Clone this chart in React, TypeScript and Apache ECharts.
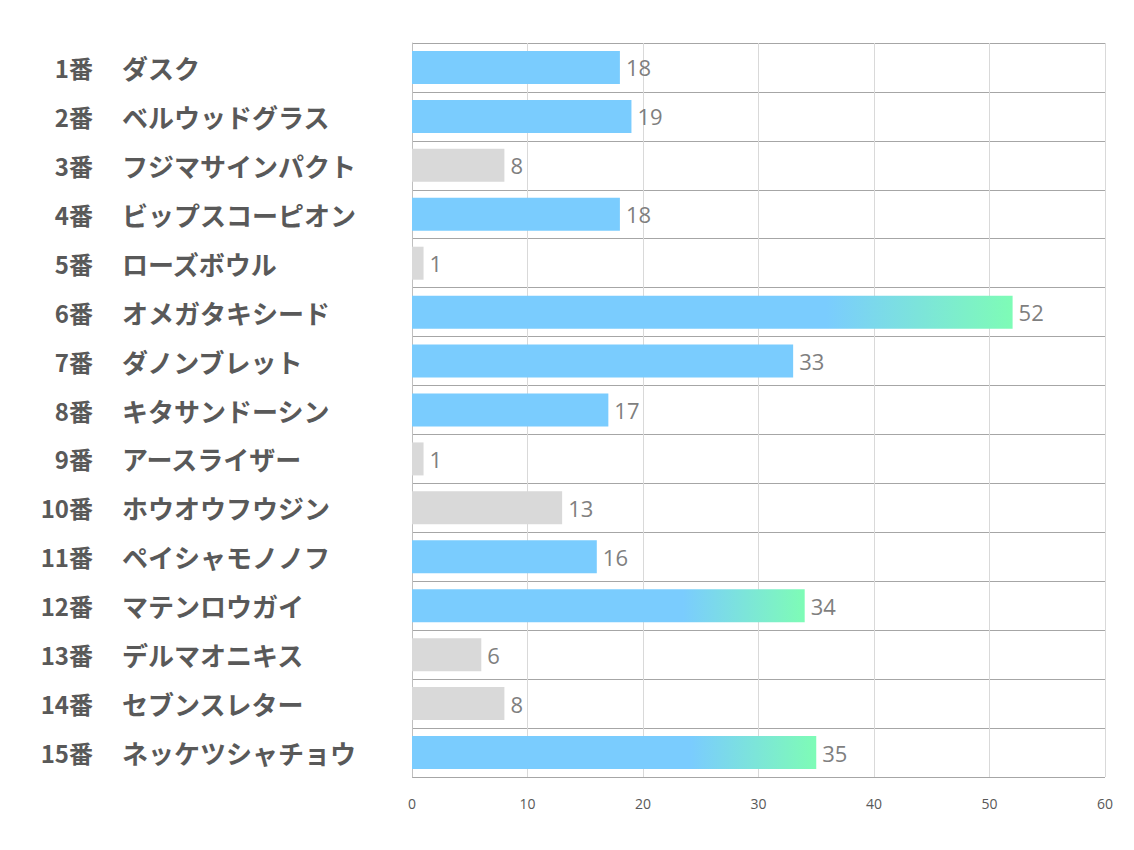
import React, { useEffect, useRef } from "react";
import * as echarts from "echarts";

const numbers = ["1番", "2番", "3番", "4番", "5番", "6番", "7番", "8番", "9番", "10番", "11番", "12番", "13番", "14番", "15番"];
const names = [
  "ダスク",
  "ベルウッドグラス",
  "フジマサインパクト",
  "ビップスコーピオン",
  "ローズボウル",
  "オメガタキシード",
  "ダノンブレット",
  "キタサンドーシン",
  "アースライザー",
  "ホウオウフウジン",
  "ペイシャモノノフ",
  "マテンロウガイ",
  "デルマオニキス",
  "セブンスレター",
  "ネッケツシャチョウ",
];
const values = [18, 19, 8, 18, 1, 52, 33, 17, 1, 13, 16, 34, 6, 8, 35];
// "blue" = highlighted, "gray" = not highlighted, "grad" = blue with green gradient end
const styles = ["blue", "blue", "gray", "blue", "gray", "grad", "blue", "blue", "gray", "gray", "blue", "grad", "gray", "gray", "grad"];
const xTicks = [0, 10, 20, 30, 40, 50, 60];

const BLUE = "#7ACCFE";
const GREEN = "#7EFCB6";
const GRAY = "#D9D9D9";
const LABEL_FONT = "Noto Sans CJK JP";

export default function App() {
  const ref = useRef<HTMLDivElement>(null);
  useEffect(() => {
    if (!ref.current) return;
    const chart = echarts.init(ref.current, undefined, { renderer: "svg" });
    const data = values.map((v, i) => {
      const s = styles[i];
      let color: any = s === "gray" ? GRAY : BLUE;
      if (s === "grad") {
        color = new echarts.graphic.LinearGradient(0, 0, 1, 0, [
          { offset: 0, color: BLUE },
          { offset: 0.69, color: BLUE },
          { offset: 1, color: GREEN },
        ]);
      }
      return { value: v, itemStyle: { color } };
    });
    chart.setOption({
      animation: false,
      grid: { left: 412, right: 29, top: 43, bottom: 73, containLabel: false },
      xAxis: {
        type: "value",
        min: xTicks[0],
        max: xTicks[xTicks.length - 1],
        interval: 10,
        axisLine: { show: false },
        axisTick: { show: false },
        splitLine: { show: true, lineStyle: { color: "#D9D9D9", width: 1 } },
        axisLabel: { color: "#595959", fontSize: 14, fontFamily: "Open Sans", margin: 19 },
      },
      yAxis: [
        {
          type: "category",
          inverse: true,
          data: numbers,
          axisLine: { show: true, lineStyle: { color: "#BFBFBF", width: 1 } },
          axisTick: { show: false },
          splitLine: { show: true, interval: 0, lineStyle: { color: "#A6A6A6", width: 1 } },
          axisLabel: {
            interval: 0,
            align: "right",
            margin: 319,
            fontSize: 24,
            fontWeight: "bold",
            color: "#595959",
            fontFamily: LABEL_FONT,
          },
        },
        {
          type: "category",
          inverse: true,
          position: "left",
          data: names,
          axisLine: { show: false },
          axisTick: { show: false },
          splitLine: { show: false },
          axisLabel: {
            interval: 0,
            align: "left",
            margin: 290,
            fontSize: 26,
            fontWeight: "bold",
            color: "#595959",
            fontFamily: LABEL_FONT,
          },
        },
      ],
      series: [
        {
          type: "bar",
          yAxisIndex: 0,
          data,
          barWidth: 33,
          label: {
            show: true,
            position: "right",
            distance: 6,
            color: "#7F7F7F",
            fontSize: 22,
            fontFamily: "Open Sans",
            padding: [4, 0, 0, 0],
          },
        },
      ],
    });
    return () => chart.dispose();
  }, []);
  return <div ref={ref} style={{ width: 1134, height: 850, position: "absolute", left: 0, top: 0, background: "#fff" }} />;
}
